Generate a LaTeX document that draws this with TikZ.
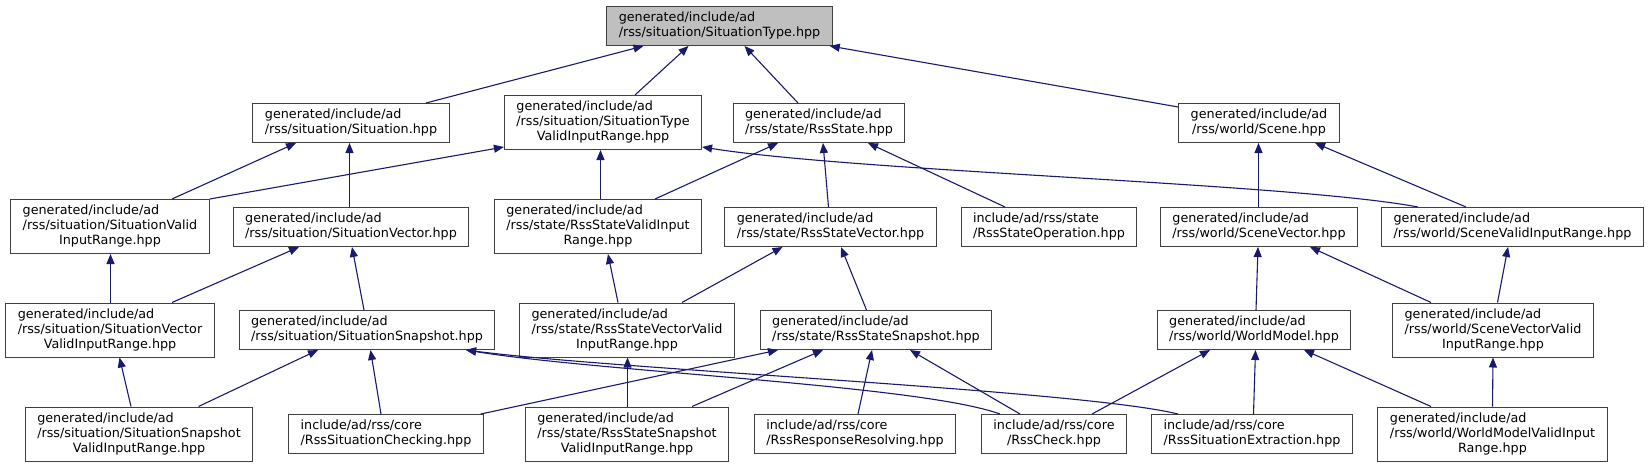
\documentclass[tikz,border=0pt]{standalone}
\usepackage{fontspec}
\setmainfont{DejaVu Sans}
\usetikzlibrary{arrows.meta}
\definecolor{edgeblue}{RGB}{25,25,112}
\definecolor{boxgrey}{RGB}{64,64,64}
\definecolor{rootgrey}{RGB}{191,191,191}
\newcommand{\fname}[2]{\begin{tabular}{@{}l@{}}#1\\\multicolumn{1}{@{}c@{}}{#2}\end{tabular}}

\begin{document}
\begin{tikzpicture}[
  x=1pt, y=-1pt,
  file/.style={draw=boxgrey, line width=1pt, fill=white, inner xsep=12pt,
    inner ysep=4.5pt, font=\fontsize{12.75}{15}\selectfont},
  root/.style={file, fill=rootgrey},
  dep/.style={draw=edgeblue, line width=1.1pt, -{Triangle[length=10pt, width=8pt]}}
]
\useasboundingbox (0,0) rectangle (1648,468);

\node[root] (st) at (719.5,26) {\fname{generated/include/ad}{/rss/situation/SituationType.hpp}};

\node[file] (sit) at (351,123) {\fname{generated/include/ad}{/rss/situation/Situation.hpp}};
\node[file] (stvir) at (603,122.5) {\fname{generated/include/ad\\/rss/situation/SituationType}{ValidInputRange.hpp}};
\node[file] (rs) at (819,123) {\fname{generated/include/ad}{/rss/state/RssState.hpp}};
\node[file] (scene) at (1259,123) {\fname{generated/include/ad}{/rss/world/Scene.hpp}};

\node[file] (svir) at (110,226.5) {\fname{generated/include/ad\\/rss/situation/SituationValid}{InputRange.hpp}};
\node[file] (sv) at (351,227) {\fname{generated/include/ad}{/rss/situation/SituationVector.hpp}};
\node[file] (rsvir) at (598,226.5) {\fname{generated/include/ad\\/rss/state/RssStateValidInput}{Range.hpp}};
\node[file] (rsv) at (830.5,227) {\fname{generated/include/ad}{/rss/state/RssStateVector.hpp}};
\node[file] (rso) at (1049,227) {\fname{include/ad/rss/state}{/RssStateOperation.hpp}};
\node[file] (scv) at (1259,227) {\fname{generated/include/ad}{/rss/world/SceneVector.hpp}};
\node[file] (scvir) at (1512.5,227) {\fname{generated/include/ad}{/rss/world/SceneValidInputRange.hpp}};

\node[file] (svvir) at (110,330) {\fname{generated/include/ad\\/rss/situation/SituationVector}{ValidInputRange.hpp}};
\node[file] (ss) at (367,330) {\fname{generated/include/ad}{/rss/situation/SituationSnapshot.hpp}};
\node[file] (rsvvir) at (627,330) {\fname{generated/include/ad\\/rss/state/RssStateVectorValid}{InputRange.hpp}};
\node[file] (rss) at (876,330) {\fname{generated/include/ad}{/rss/state/RssStateSnapshot.hpp}};
\node[file] (wm) at (1254,330) {\fname{generated/include/ad}{/rss/world/WorldModel.hpp}};
\node[file] (scvvir) at (1493,330) {\fname{generated/include/ad\\/rss/world/SceneVectorValid}{InputRange.hpp}};

\node[file] (ssvir) at (139,434) {\fname{generated/include/ad\\/rss/situation/SituationSnapshot}{ValidInputRange.hpp}};
\node[file] (rsc) at (386,434) {\fname{include/ad/rss/core}{/RssSituationChecking.hpp}};
\node[file] (rssvir) at (627,434) {\fname{generated/include/ad\\/rss/state/RssStateSnapshot}{ValidInputRange.hpp}};
\node[file] (rrr) at (855,434) {\fname{include/ad/rss/core}{/RssResponseResolving.hpp}};
\node[file] (rc) at (1054,434) {\fname{include/ad/rss/core}{/RssCheck.hpp}};
\node[file] (rse) at (1252,434) {\fname{include/ad/rss/core}{/RssSituationExtraction.hpp}};
\node[file] (wmvir) at (1492.5,434) {\fname{generated/include/ad\\/rss/world/WorldModelValidInput}{Range.hpp}};

\draw[dep] ([xshift=75]sit.north) -- ([xshift=-76]st.south);
\draw[dep] ([xshift=32]stvir.north) -- ([xshift=-31]st.south);
\draw[dep] ([xshift=-21]rs.north) -- ([xshift=25]st.south);
\draw[dep] ([yshift=-4]scene.north west) -- ([xshift=-3]st.south east);

\draw[dep] ([xshift=62]svir.north) -- ([xshift=-55]sit.south);
\draw[dep] ([xshift=-1.5]sv.north) -- ([xshift=-1.5]sit.south);
\draw[dep] (svir.north east) -- ([yshift=3]stvir.south west);
\draw[dep] ([xshift=2.5]rsvir.north) -- ([xshift=-2.5]stvir.south);
\draw[dep] ([xshift=57]rsvir.north) -- ([xshift=-41]rs.south);
\draw[dep] ([xshift=-2]rsv.north) -- ([xshift=4]rs.south);
\draw[dep] ([xshift=-44]rso.north) -- ([xshift=49]rs.south);
\draw[dep] ([xshift=-94.5]scvir.north) .. controls (1290,183) and (860,172) .. ([yshift=3]stvir.south east);
\draw[dep] ([xshift=-0.5]scv.north) -- ([xshift=-0.5]scene.south);
\draw[dep] ([xshift=-46.5]scvir.north) -- ([xshift=56]scene.south);

\draw[dep] ([xshift=0.5]svvir.north) -- ([xshift=0.5]svir.south);
\draw[dep] ([xshift=62]svvir.north) -- ([xshift=-52]sv.south);
\draw[dep] ([xshift=-3]ss.north) -- ([xshift=1]sv.south);
\draw[dep] ([xshift=-9]rsvvir.north) -- ([xshift=10]rsvir.south);
\draw[dep] ([xshift=55]rsvvir.north) -- ([xshift=-48]rsv.south);
\draw[dep] ([xshift=-9.5]rss.north) -- ([xshift=10.5]rsv.south);
\draw[dep] ([xshift=2]wm.north) -- ([xshift=-1]scv.south);
\draw[dep] ([xshift=-62]scvvir.north) -- ([xshift=51]scv.south);
\draw[dep] ([xshift=4.5]scvvir.north) -- ([xshift=-4.5]scvir.south);

\draw[dep] ([xshift=-8]ssvir.north) -- ([xshift=9.5]svvir.south);
\draw[dep] ([xshift=59.5]ssvir.north) -- ([xshift=-49]ss.south);
\draw[dep] ([xshift=-5]rsc.north) -- ([xshift=3.5]ss.south);
\draw[dep] ([xshift=-3]rsc.north east) -- ([xshift=-98]rss.south);
\draw[dep] ([xshift=0.5]rssvir.north) -- ([xshift=0.5]rsvvir.south);
\draw[dep] ([xshift=65]rssvir.north) -- ([xshift=-53]rss.south);
\draw[dep] ([xshift=3]rrr.north) -- ([xshift=-4]rss.south);
\draw[dep] ([xshift=-34]rc.north) -- ([xshift=34]rss.south);
\draw[dep] ([xshift=-54]rc.north) .. controls (920,385) and (600,372) .. ([xshift=99]ss.south);
\draw[dep] ([xshift=38]rc.north) -- ([xshift=-44]wm.south);
\draw[dep] ([xshift=1.5]rse.north) -- ([xshift=1.5]wm.south);
\draw[dep] ([xshift=-74]rse.north) .. controls (1080,390) and (620,370) .. ([xshift=99]ss.south);
\draw[dep] ([xshift=-61.5]wmvir.north) -- ([xshift=50]wm.south);
\draw[dep] (wmvir.north) -- (scvvir.south);
\end{tikzpicture}
\end{document}
